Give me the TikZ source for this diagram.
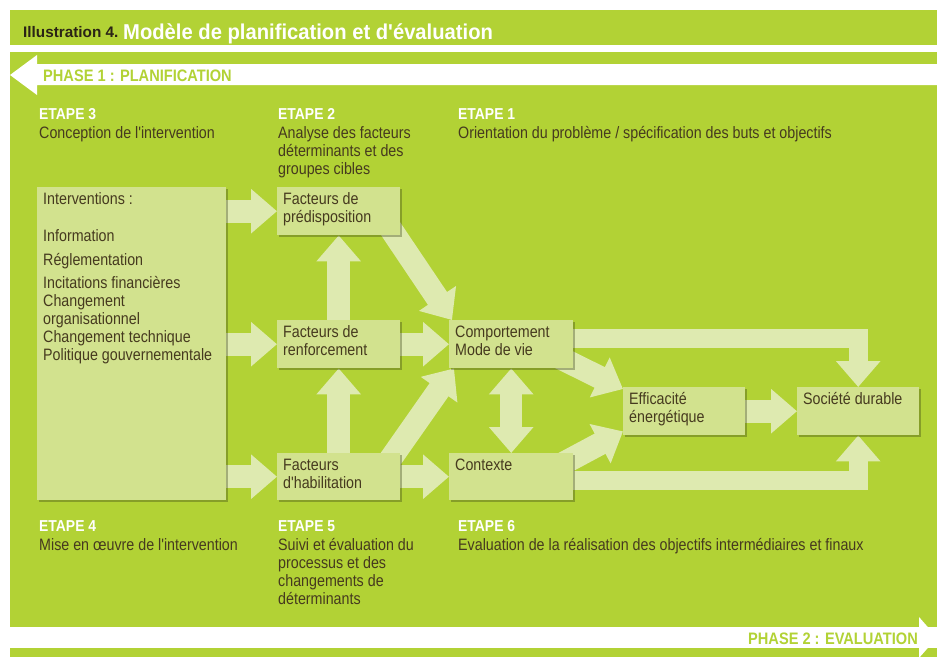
\documentclass[tikz,border=0pt]{standalone}
\usepackage{fontspec}
\setmainfont{Liberation Sans}
\newfontfamily\bodyfont[FakeStretch=0.865]{Liberation Sans}
\newfontfamily\headfont[FakeStretch=0.88]{Liberation Sans}
\newfontfamily\titlefont[FakeStretch=0.94]{Liberation Sans}
\newfontfamily\illfont{Liberation Sans}
\usetikzlibrary{arrows.meta,shadows,calc}
\definecolor{bggreen}{HTML}{B2D235}
\definecolor{boxgreen}{HTML}{D2E28E}
\definecolor{arrowgreen}{HTML}{DEEAB0}
\definecolor{txtbrown}{HTML}{463A1F}
\definecolor{titledark}{HTML}{2B2416}
\pgfdeclarelayer{bg}
\pgfdeclarelayer{arr}
\pgfsetlayers{bg,arr,main}
\newcommand{\bx}[3]{\parbox[t][#2][t]{#1}{\strut #3}}
\newcommand{\ml}[1]{\begin{tabular}[t]{@{}l@{}}#1\end{tabular}}
\tikzset{
  box/.style={draw=none, fill=boxgreen, anchor=north west, inner xsep=6pt, inner ysep=5pt,
    drop shadow={shadow xshift=2pt, shadow yshift=-2pt, opacity=0.35, fill=black!70!bggreen},
    font=\bodyfont\fontsize{16.5}{18}\selectfont, text=txtbrown},
  fat/.style={draw=arrowgreen, line width=23pt, line join=miter,
    -{Triangle[width=43pt,length=26pt]}},
  fatboth/.style={draw=arrowgreen, line width=22pt,
    {Triangle[width=43pt,length=26pt]}-{Triangle[width=43pt,length=26pt]}},
  body/.style={anchor=base west, inner sep=0pt, text=txtbrown, font=\bodyfont\fontsize{16.5}{18}\selectfont},
  etape/.style={anchor=base west, inner sep=0pt, text=white, font=\headfont\bfseries\fontsize{15.8}{18}\selectfont},
  phase/.style={inner sep=0pt, text=bggreen, font=\headfont\bfseries\fontsize{16.6}{18}\selectfont},
}
\begin{document}
\begin{tikzpicture}[x=1pt,y=-1pt]
\useasboundingbox (0,0) rectangle (937,657);
\clip (0,0) rectangle (937,657);
\begin{pgfonlayer}{bg}
  \fill[white] (0,0) rectangle (937,657);
  \fill[bggreen] (10,10) rectangle (937,45);
  \fill[bggreen] (10,52) rectangle (937,627);
  \fill[bggreen] (10,648) rectangle (937,657);
  \fill[white] (937,64) -- (37,64) -- (37,55) -- (10,75) -- (37,95) -- (37,85) -- (937,85) -- cycle;
  \fill[white] (919,617) -- (937,637.5) -- (919,658) -- cycle;
\end{pgfonlayer}

% title
\node[anchor=base west, inner sep=0pt, text=titledark, font=\illfont\bfseries\fontsize{15.3}{17}\selectfont] (ill) at (23,37) {Illustration 4.};
\node[anchor=base west, inner sep=0pt, text=white, font=\titlefont\bfseries\fontsize{21.5}{24}\selectfont] (title) at (123,39) {Modèle de planification et d'évaluation};

% phases
\node[phase, anchor=base west] (ph1) at (43,81.3) {PHASE 1 : PLANIFICATION};
\node[phase, anchor=base east] (ph2) at (918,644) {PHASE 2 : EVALUATION};

% etapes
\node[etape] (e3) at (39,119.3) {ETAPE 3};
\node[body] (e3t) at (39,138.3) {Conception de l'intervention};
\node[etape] (e2) at (278,119.3) {ETAPE 2};
\node[body] (e2t) at (278,138.3) {\ml{Analyse des facteurs\\déterminants et des\\groupes cibles}};
\node[etape] (e1) at (458,119.3) {ETAPE 1};
\node[body] (e1t) at (458,138.3) {Orientation du problème / spécification des buts et objectifs};
\node[etape] (e4) at (39,531.7) {ETAPE 4};
\node[body] (e4t) at (39,550) {Mise en œuvre de l'intervention};
\node[etape] (e5) at (278,531.7) {ETAPE 5};
\node[body] (e5t) at (278,550) {\ml{Suivi et évaluation du\\processus et des\\changements de\\déterminants}};
\node[etape] (e6) at (458,531.7) {ETAPE 6};
\node[body] (e6t) at (458,550) {Evaluation de la réalisation des objectifs intermédiaires et finaux};

% boxes
\node[box] (interv) at (37,187) {\bx{177pt}{303pt}{Interventions :\\[18.7pt]
Information\\[6pt]
Réglementation\\[4.6pt]
Incitations financières\\
Changement\\
organisationnel\\
Changement technique\\
Politique gouvernementale}};
\node[box] (pred) at (277,187) {\bx{111pt}{38pt}{Facteurs de\\prédisposition}};
\node[box] (renf) at (277,320) {\bx{111pt}{38pt}{Facteurs de\\renforcement}};
\node[box] (hab) at (277,453) {\bx{111pt}{37pt}{Facteurs\\d'habilitation}};
\node[box] (comp) at (449,320) {\bx{112pt}{38pt}{Comportement\\Mode de vie}};
\node[box] (ctx) at (449,453) {\bx{112pt}{37pt}{Contexte}};
\node[box] (eff) at (623,387) {\bx{110pt}{38pt}{Efficacité\\énergétique}};
\node[box] (soc) at (797,387) {\bx{110pt}{38pt}{Société durable}};

% arrows
\begin{pgfonlayer}{arr}
  \draw[fat] (interv.east |- pred.west) -- (pred.west);
  \draw[fat] (interv.east |- renf.west) -- (renf.west);
  \draw[fat] (interv.east |- hab.west) -- (hab.west);
  \draw[fat] (hab.north) -- (renf.south);
  \draw[fat] (renf.north) -- (pred.south);
  \draw[fat] (renf.east) -- (comp.west);
  \draw[fat] (hab.east) -- (ctx.west);
  \draw[fat] ([xshift=-12pt,yshift=10pt]pred.south east) -- ([xshift=3pt]comp.north west);
  \draw[fat] ([xshift=-12pt,yshift=-9pt]hab.north east) -- ([xshift=5pt]comp.south west);
  \draw[fatboth] (comp.south) -- (ctx.north);
  \draw[fat] ([xshift=-18pt,yshift=13pt]comp.south east) -- ([yshift=-2pt]eff.north west);
  \draw[fat] ([xshift=-15pt,yshift=-13pt]ctx.north east) -- ([yshift=4pt]eff.south west);
  \draw[fat] (eff.east) -- (soc.west);
  \draw[fat, line width=19pt] ([yshift=6pt]comp.east) -| (soc.north);
  \draw[fat, line width=19pt] ([yshift=-3.5pt]ctx.east) -| (soc.south);
\end{pgfonlayer}
\end{tikzpicture}
\end{document}
